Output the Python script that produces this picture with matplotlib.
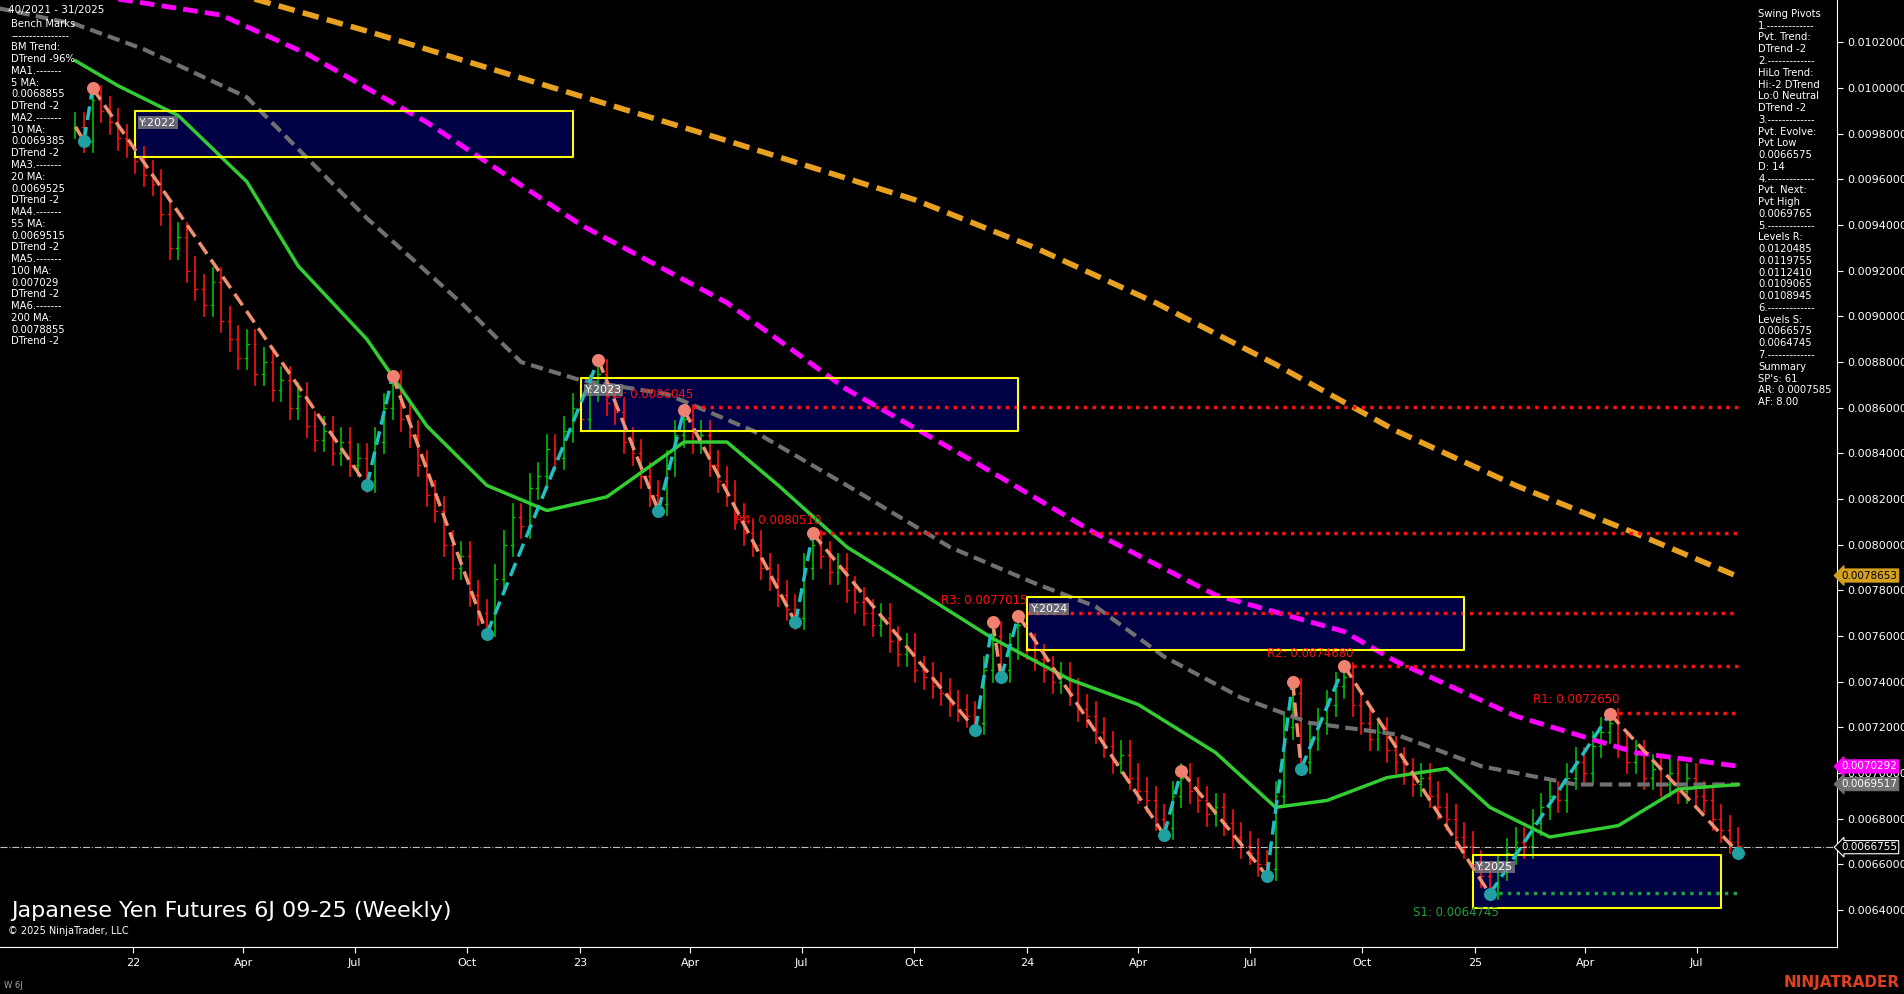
import matplotlib
matplotlib.use("Agg")
import matplotlib.pyplot as plt
import numpy as np
import pandas as pd
import matplotlib.dates as mdates

closes = [0.00983,0.00977,0.00995,
0.00990,0.00985,0.00978,0.00975,0.00968,0.00962,0.00958,0.00945,0.00930,0.00935,0.00920,0.00912,0.00905,0.00915,0.00898,0.00890,0.00882,0.00888,0.00875,0.00880,0.00868,0.00872,0.00860,0.00865,0.00852,0.00846,0.00850,0.00840,0.00845,0.00835,0.00838,0.00828,
0.00845,0.00860,0.00870,
0.00855,0.00848,0.00835,0.00822,0.00815,0.00800,0.00790,0.00795,0.00778,0.00770,0.00765,
0.00785,0.00800,0.00812,0.00808,0.00825,0.00830,0.00842,0.00838,0.00850,0.00860,0.00855,0.00868,0.00875,
0.00862,0.00858,0.00845,0.00840,0.00830,0.00822,0.00818,
0.00835,0.00848,0.00855,
0.00845,0.00848,0.00835,0.00828,0.00822,0.00812,0.00805,0.00800,0.00790,0.00785,0.00778,0.00772,0.00768,
0.00790,0.00800,
0.00795,0.00788,0.00790,0.00780,0.00775,0.00770,0.00765,0.00768,0.00758,0.00752,0.00755,0.00745,0.00742,0.00738,0.00735,0.00730,0.00728,0.00725,0.00722,
0.00745,0.00760,0.00745,0.00755,0.00765,
0.00755,0.00750,0.00745,0.00740,0.00742,0.00735,0.00728,0.00725,0.00718,0.00712,0.00705,0.00708,0.00698,0.00692,0.00688,0.00680,0.00676,
0.00690,0.00698,
0.00692,0.00688,0.00682,0.00685,0.00678,0.00672,0.00668,0.00665,0.00660,0.00658,
0.00690,0.00720,0.00735,0.00705,0.00715,0.00722,0.00730,0.00738,0.00742,
0.00730,0.00722,0.00715,0.00718,0.00710,0.00705,0.00700,0.00695,0.00698,0.00690,0.00685,0.00680,0.00672,0.00668,0.00660,0.00655,0.00650,
0.00658,0.00665,0.00670,0.00668,0.00678,0.00685,0.00690,0.00688,0.00698,0.00705,0.00700,0.00712,0.00718,0.00722,
0.00712,0.00705,0.00708,0.00698,0.00702,0.00695,0.00700,0.00692,0.00698,0.00690,0.00688,0.00680,0.00675,0.00670,0.00668]

piv_w = [0,1,2,34,37,48,61,68,71,84,86,105,107,108,110,127,129,139,142,143,148,165,179,194]
piv_p = [0.00983,0.00977,0.01000,0.00826,0.00874,0.00761,0.00881,0.00815,0.00859,0.00766,0.00805,0.00719,0.00766,0.00742,0.00769,0.00673,0.00701,0.00655,0.00740,0.00702,0.00747,0.00647,0.00726,0.00665]

ma20_w = [0,5,12,20,26,34,41,48,55,62,71,76,82,90,99,107,116,124,133,140,146,153,160,165,172,180,187,194]
ma20_p = [0.01012,0.01001,0.00988,0.00959,0.00922,0.00890,0.00852,0.00826,0.00815,0.00821,0.00845,0.00845,0.00826,0.00799,0.00778,0.00759,0.00741,0.00730,0.00709,0.00685,0.00688,0.00698,0.00702,0.00685,0.00672,0.00677,0.00693,0.00695]
ma55_w = [-9,0,8,20,34,45,52,59,69,79,90,102,112,119,127,136,144,154,164,175,194]
ma55_p = [0.01035,0.01028,0.01017,0.00996,0.00943,0.00906,0.00880,0.00872,0.00866,0.00850,0.00826,0.00799,0.00783,0.00773,0.00751,0.00733,0.00722,0.00717,0.00703,0.00695,0.00695]
ma100_w = [5,17,27,41,59,76,90,105,119,133,148,154,168,182,194]
ma100_p = [0.01039,0.01032,0.01015,0.00985,0.00940,0.00906,0.00868,0.00836,0.00805,0.00778,0.00762,0.00749,0.00725,0.00709,0.00703]
ma200_w = [20,34,55,76,98,112,126,140,154,168,182,194]
ma200_p = [0.01040,0.01025,0.01001,0.00977,0.00951,0.00930,0.00906,0.00879,0.00850,0.00826,0.00805,0.00786]

res_names = ["R5","R4","R3","R2","R1"]
res_vals = [0.0086045,0.0080510,0.0077015,0.0074680,0.0072650]
res_start = [71,86,110,148,179]
sup_val = 0.0064745
sup_start = 165
last_price = 0.0066755

years = ["Y:2022","Y:2023","Y:2024","Y:2025"]
box_w = [(7,58),(59,110),(111,162),(163,192)]
box_p = [(0.00970,0.00990),(0.00850,0.00873),(0.00754,0.00777),(0.00641,0.00664)]

start = pd.Timestamp("2021-11-15")
def wd(w):
    return mdates.date2num(start + pd.Timedelta(weeks=w))

BG = "black"
fig = plt.figure(figsize=(19.04, 9.94), dpi=100, facecolor=BG)
ax = fig.add_axes([0, 0.047, 0.9648, 0.953], facecolor=BG)

opens = [closes[0]] + closes[:-1]
for i, c in enumerate(closes):
    o = opens[i]
    hi = max(o, c) + 0.00006
    lo = min(o, c) - 0.00005
    col = "#00c000" if c >= o else "#ff1010"
    x = wd(i)
    ax.plot([x, x], [lo, hi], color=col, lw=1.2, zorder=3)
    ax.plot([x - 1.5, x], [o, o], color=col, lw=1.0, zorder=3)
    ax.plot([x, x + 1.5], [c, c], color=col, lw=1.0, zorder=3)

ax.plot([wd(w) for w in ma200_w], ma200_p, color="#e8a020", lw=4, ls=(0, (3, 1.5)), zorder=4)
ax.plot([wd(w) for w in ma100_w], ma100_p, color="#ff00ff", lw=3.5, ls=(0, (3, 1.5)), zorder=4)
ax.plot([wd(w) for w in ma55_w], ma55_p, color="#707070", lw=3, ls=(0, (3, 1.5)), zorder=4)
ax.plot([wd(w) for w in ma20_w], ma20_p, color="#33cc33", lw=2.5, zorder=4)

for nm, (a, b), (l, h) in zip(years, box_w, box_p):
    ax.fill_between([wd(a), wd(b)], l, h, color="#00004d", alpha=0.9, zorder=2)
    ax.plot([wd(a), wd(b), wd(b), wd(a), wd(a)], [l, l, h, h, l], color="#ffff00", lw=1.5, zorder=5)
    ax.text(wd(a) + 3, h - 0.00003, nm, color="white", fontsize=8, va="top", zorder=7,
            bbox=dict(facecolor="#808080", edgecolor="none", pad=1, alpha=0.8))

for nm, v, s in zip(res_names, res_vals, res_start):
    ax.plot([wd(s), wd(194)], [v, v], color="#ff1010", lw=2.5, ls=(0, (1, 1.5)), zorder=4)
    ax.text(wd(s - 9), v + 0.00004, f"{nm}: {v:.7f}", color="#ff1010", fontsize=8.5, zorder=6)
ax.plot([wd(sup_start), wd(194)], [sup_val, sup_val], color="#20a040", lw=2.5, ls=(0, (1, 1.5)), zorder=4)
ax.text(wd(sup_start - 9), sup_val - 0.00010, f"S1: {sup_val:.7f}", color="#20a040", fontsize=8.5, zorder=6)
ax.axhline(last_price, color="#c0c0c0", lw=0.8, ls="-.", zorder=3)

for i in range(len(piv_w) - 1):
    up = piv_p[i + 1] > piv_p[i]
    ax.plot([wd(piv_w[i]), wd(piv_w[i + 1])], [piv_p[i], piv_p[i + 1]],
            color="#20c0c0" if up else "#f09070", lw=2.5, ls=(0, (4, 2)), zorder=6)
for i, (w, p) in enumerate(zip(piv_w, piv_p)):
    if i == 0:
        continue
    hi = (i < len(piv_p) - 1 and p > piv_p[i + 1]) or (i == len(piv_p) - 1 and p > piv_p[i - 1])
    ax.scatter(wd(w), p, s=70, color="#f08070" if hi else "#20a0a0", zorder=7)

ax.set_xlim(wd(-8.8), wd(205.5))
ax.set_ylim(0.006237, 0.010386)
ax.yaxis.tick_right()
ax.set_yticks(np.arange(0.0064, 0.01021, 0.0002))
ax.yaxis.set_major_formatter(matplotlib.ticker.FuncFormatter(lambda v, p: f"{v:.7f}"))
ax.tick_params(colors="white", labelsize=8, length=4)
ticks = pd.date_range("2022-01-01", "2025-07-01", freq="QS")
ax.set_xticks([mdates.date2num(t) for t in ticks])
ax.set_xticklabels([t.strftime("%y") if t.month == 1 else t.strftime("%b") for t in ticks])
for s in ["top", "left"]:
    ax.spines[s].set_visible(False)
for s in ["right", "bottom"]:
    ax.spines[s].set_color("white")

tags = [(0.0078653, "#d4a020", "black"), (0.0070292, "#ff00ff", "white"),
        (0.0069517, "#707070", "white"), (last_price, "black", "white")]
for v, fc, tc in tags:
    ax.annotate(f"{v:.7f}", xy=(1.0, v), xycoords=("axes fraction", "data"), xytext=(3, 0),
                textcoords="offset points", va="center", fontsize=7.5, color=tc, annotation_clip=False,
                bbox=dict(boxstyle="larrow,pad=0.15", fc=fc, ec="white" if fc == "black" else fc, lw=0.8))

left_txt = ["Bench Marks", "----------------", "BM Trend:", "DTrend -96%", "MA1.-------", "5 MA:", "0.0068855",
            "DTrend -2", "MA2.-------", "10 MA:", "0.0069385", "DTrend -2", "MA3.-------", "20 MA:", "0.0069525",
            "DTrend -2", "MA4.-------", "55 MA:", "0.0069515", "DTrend -2", "MA5.-------", "100 MA:", "0.007029",
            "DTrend -2", "MA6.-------", "200 MA:", "0.0078855", "DTrend -2"]
fig.text(0.004, 0.995, "40/2021 - 31/2025", color="white", fontsize=7.5, va="top")
fig.text(0.006, 0.981, "\n".join(left_txt), color="white", fontsize=7.2, va="top", linespacing=1.22)
right_txt = ["Swing Pivots", "1.-------------", "Pvt. Trend:", "DTrend -2", "2.-------------", "HiLo Trend:",
             "Hi:-2 DTrend", "Lo:0 Neutral", "DTrend -2", "3.-------------", "Pvt. Evolve:", "Pvt Low", "0.0066575",
             "D: 14", "4.-------------", "Pvt. Next:", "Pvt High", "0.0069765", "5.-------------", "Levels R:",
             "0.0120485", "0.0119755", "0.0112410", "0.0109065", "0.0108945", "6.-------------", "Levels S:",
             "0.0066575", "0.0064745", "7.-------------", "Summary", "SP's: 61", "AR: 0.0007585", "AF: 8.00"]
fig.text(0.9235, 0.991, "\n".join(right_txt), color="white", fontsize=7.2, va="top", linespacing=1.22)
fig.text(0.006, 0.073, "Japanese Yen Futures 6J 09-25 (Weekly)", color="white", fontsize=16, va="bottom")
fig.text(0.004, 0.058, "© 2025 NinjaTrader, LLC", color="white", fontsize=7, va="bottom")
fig.text(0.002, 0.004, "W 6J", color="#aaaaaa", fontsize=6, va="bottom")
fig.text(0.998, 0.004, "NINJATRADER", color="#e04020", fontsize=11, weight="bold", ha="right", va="bottom")

fig.savefig("out.png", dpi=100, facecolor=BG)
